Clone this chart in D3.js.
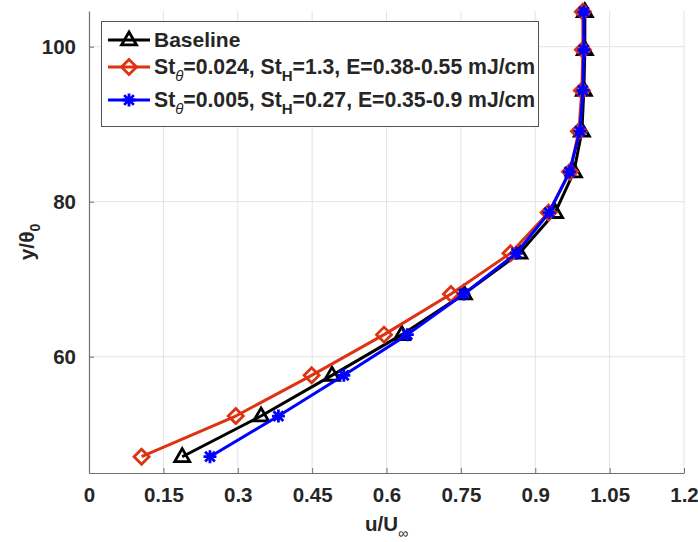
<!DOCTYPE html>
<html><head><meta charset="utf-8">
<script src="https://cdn.jsdelivr.net/npm/d3@7"></script>
<style>
html,body{margin:0;padding:0;background:#fff;}
svg text{font-family:"Liberation Sans",Arial,sans-serif;font-weight:bold;fill:#262626;}
</style></head>
<body>
<script>
// ---- data ----
const yTheta = [47.1, 52.35, 57.6, 62.85, 68.1, 73.35, 78.6, 83.85, 89.1, 94.35, 99.6, 104.5];
const baselineU = [0.188, 0.347, 0.490, 0.631, 0.756, 0.868, 0.940, 0.978, 0.994, 0.998, 1.0, 1.0];
const case1U = [0.106, 0.296, 0.449, 0.595, 0.730, 0.850, 0.927, 0.970, 0.988, 0.994, 0.996, 0.996];
const case2U = [0.244, 0.382, 0.514, 0.642, 0.756, 0.862, 0.928, 0.969, 0.990, 0.996, 0.998, 0.998];
const xTicks = [0, 0.15, 0.3, 0.45, 0.6, 0.75, 0.9, 1.05, 1.2];
const xTickLabels = ["0", "0.15", "0.3", "0.45", "0.6", "0.75", "0.9", "1.05", "1.2"];
const yTicks = [60, 80, 100];
const seriesNames = ["Baseline", "case1", "case2"];

const W = 698, H = 542;
const m = {left: 89, right: 684, top: 11, bottom: 473};
const x = d3.scaleLinear().domain([0, 1.2]).range([m.left, m.right]);
const y = d3.scaleLinear().domain([45, 104.6]).range([m.bottom, m.top]);

const svg = d3.select("body").append("svg").attr("width", W).attr("height", H);

svg.append("defs").append("clipPath").attr("id", "clip")
  .append("rect").attr("x", m.left).attr("y", m.top - 3).attr("width", m.right - m.left).attr("height", m.bottom - m.top + 3);

// grid
const grid = svg.append("g");
grid.selectAll(".gx").data(xTicks.slice(1)).enter().append("line")
  .attr("x1", d => x(d)).attr("x2", d => x(d)).attr("y1", m.top).attr("y2", m.bottom)
  .attr("stroke", "#e3e3e3").attr("stroke-width", 1);
grid.selectAll(".gy").data(yTicks).enter().append("line")
  .attr("x1", m.left).attr("x2", m.right).attr("y1", d => y(d)).attr("y2", d => y(d))
  .attr("stroke", "#e3e3e3").attr("stroke-width", 1);

// axes
const xAxis = d3.axisBottom(x).tickValues(xTicks).tickFormat((d, i) => xTickLabels[i]).tickSizeInner(-5).tickSizeOuter(0).tickPadding(14);
const gx = svg.append("g").attr("transform", `translate(0,${m.bottom})`).call(xAxis);
const yAxis = d3.axisLeft(y).tickValues(yTicks).tickSizeInner(-5).tickSizeOuter(0).tickPadding(13);
const gy = svg.append("g").attr("transform", `translate(${m.left},0)`).call(yAxis);
[gx, gy].forEach(g => {
  g.select(".domain").attr("stroke", "#707070").attr("stroke-width", 1.2);
  g.selectAll(".tick line").attr("stroke", "#707070");
  g.selectAll(".tick text").style("font-size", "20.5px").style("font-family", "Liberation Sans, Arial, sans-serif").style("font-weight", "bold").attr("fill", "#262626");
});

// axis labels
const xl = svg.append("text").attr("x", (m.left + m.right) / 2).attr("y", 531).attr("text-anchor", "middle").style("font-size", "20.5px");
xl.append("tspan").text("u/U");
xl.append("tspan").attr("dy", 7).style("font-size", "14px").style("font-weight", "normal").text("\u221E");

const yl = svg.append("text").attr("transform", `translate(34,${(m.top + m.bottom) / 2}) rotate(-90)`).attr("text-anchor", "middle").style("font-size", "21px");
yl.append("tspan").text("y/\u03B8");
yl.append("tspan").attr("dy", 6).style("font-size", "14px").text("0");

// markers
function triPath(s) { const h = s * 0.866; return `M0,${-h*0.62}L${s/2},${h*0.38}L${-s/2},${h*0.38}Z`; }
function diaPath(s) { return `M0,${-s/2}L${s/2},0L0,${s/2}L${-s/2},0Z`; }
function astPath(s) { const r = s / 2, q = r * 0.75; return `M${-r},0L${r},0M0,${-r}L0,${r}M${-q},${-q}L${q},${q}M${-q},${q}L${q},${-q}`; }

const series = [
  {name: seriesNames[0], u: baselineU, color: "#000000", marker: triPath(15)},
  {name: seriesNames[1], u: case1U, color: "#dd3311", marker: diaPath(15)},
  {name: seriesNames[2], u: case2U, color: "#0000ff", marker: astPath(13)}
];

const line = d3.line().x(d => x(d[0])).y(d => y(d[1]));
const plot = svg.append("g");
series.forEach(s => {
  const pts = s.u.map((u, i) => [u, yTheta[i]]);
  plot.append("path").datum(pts).attr("d", line).attr("fill", "none")
    .attr("stroke", s.color).attr("stroke-width", 3).attr("clip-path", "url(#clip)").attr("stroke-linejoin", "round");
  plot.selectAll(null).data(pts).enter().append("path")
    .attr("transform", d => `translate(${x(d[0])},${y(d[1])})`)
    .attr("d", s.marker).attr("fill", "none").attr("stroke", s.color).attr("stroke-width", 2.8).attr("stroke-linejoin", "miter");
});

// legend
const lg = svg.append("g");
lg.append("rect").attr("x", 101.5).attr("y", 21.5).attr("width", 437).attr("height", 105)
  .attr("fill", "#fff").attr("stroke", "#555").attr("stroke-width", 1);
const rowsY = [40, 67, 100];
series.forEach((s, i) => {
  const yy = rowsY[i];
  lg.append("line").attr("x1", 108).attr("x2", 150).attr("y1", yy).attr("y2", yy).attr("stroke", s.color).attr("stroke-width", 3);
  lg.append("path").attr("transform", `translate(129,${yy})`).attr("d", s.marker).attr("fill", "none").attr("stroke", s.color).attr("stroke-width", 2.8);
});
lg.append("text").attr("x", 154).attr("y", rowsY[0] + 7).style("font-size", "21px").text("Baseline");
function stText(yy, a, b, c) {
  const t = lg.append("text").attr("x", 154).attr("y", yy + 7).style("font-size", "21.2px");
  t.append("tspan").text("St");
  t.append("tspan").attr("dy", 7).style("font-size", "15px").style("font-style", "italic").style("font-weight", "normal").text("\u03B8");
  t.append("tspan").attr("dy", -7).text("=" + a + ", St");
  t.append("tspan").attr("dy", 7).style("font-size", "15px").text("H");
  t.append("tspan").attr("dy", -7).text("=" + b + ", E=" + c + " mJ/cm");
}
stText(rowsY[1], "0.024", "1.3", "0.38-0.55");
stText(rowsY[2], "0.005", "0.27", "0.35-0.9");
</script>
</body></html>
